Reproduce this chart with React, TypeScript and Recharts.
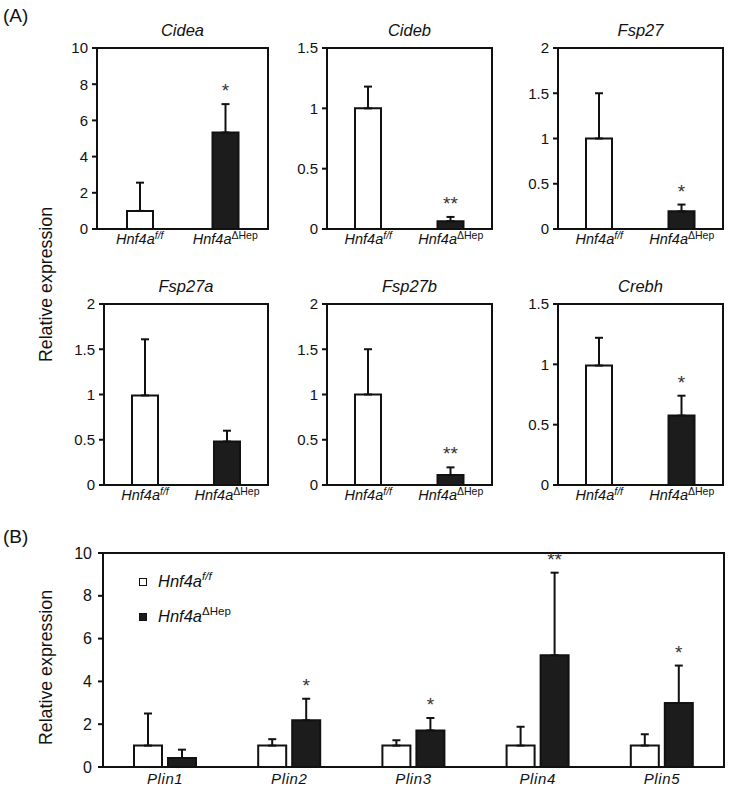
import React from "react";
import { Bar, BarChart, Cell, ErrorBar, LabelList, ReferenceArea, XAxis, YAxis } from "recharts";

const FONT = '"Liberation Sans", Arial, Helvetica, sans-serif';
const INK = "#111111";
const DARK = "#1c1c1c";

// (A) one gene per small chart, Hnf4a f/f vs ΔHep
const genotypes = ["f/f", "ΔHep"];
const genesA = ["Cidea", "Cideb", "Fsp27", "Fsp27a", "Fsp27b", "Crebh"];
const floxMeanA = [1.0, 1.0, 1.0, 0.99, 1.0, 0.99];
const floxErrA = [1.56, 0.18, 0.5, 0.62, 0.5, 0.23];
const hepMeanA = [5.33, 0.065, 0.195, 0.48, 0.11, 0.575];
const hepErrA = [1.57, 0.035, 0.075, 0.12, 0.085, 0.165];
const sigA = ["*", "**", "*", "", "**", "*"];
const ticksA = [
  [0, 2, 4, 6, 8, 10],
  [0, 0.5, 1, 1.5],
  [0, 0.5, 1, 1.5, 2],
  [0, 0.5, 1, 1.5, 2],
  [0, 0.5, 1, 1.5, 2],
  [0, 0.5, 1, 1.5],
];

// (B) perilipins
const genesB = ["Plin1", "Plin2", "Plin3", "Plin4", "Plin5"];
const floxMeanB = [1, 1, 1, 1, 1];
const floxErrB = [1.5, 0.3, 0.25, 0.88, 0.53];
const hepMeanB = [0.42, 2.18, 1.71, 5.22, 2.99];
const hepErrB = [0.39, 1.01, 0.58, 3.86, 1.75];
const sigB = ["", "*", "*", "**", "*"];
const ticksB = [0, 2, 4, 6, 8, 10];

// plot rectangles of the six small charts
const slotsA = [
  { left: 97, top: 48, w: 171 },
  { left: 327, top: 48, w: 165 },
  { left: 558, top: 48, w: 165 },
  { left: 104, top: 304, w: 164 },
  { left: 327, top: 304, w: 165 },
  { left: 558, top: 304, w: 165 },
];
const PLOT_H_A = 181;

const axisLine = { stroke: INK, strokeWidth: 2 };

function sigLabel(means: number[], errs: number[], fontSize: number) {
  return (props: any) => {
    const { x, y, width, height, value, index } = props;
    if (!value) return null;
    const perUnit = height / means[index];
    const errTop = y - errs[index] * perUnit;
    return (
      <text
        x={x + width / 2}
        y={errTop - 7}
        textAnchor="middle"
        fontFamily={FONT}
        fontSize={fontSize}
        fill="#333"
      >
        {value}
      </text>
    );
  };
}

function GenotypeTick({ x, y, payload }: any) {
  const sup = payload.value;
  return (
    <text x={x} y={y + 15} textAnchor="middle" fontFamily={FONT} fontSize={14.5} fill={INK}>
      <tspan fontStyle="italic">Hnf4a</tspan>
      <tspan fontSize={10.5} dy={-5} fontStyle={sup === "f/f" ? "italic" : "normal"}>
        {sup}
      </tspan>
    </text>
  );
}

function GeneTick({ x, y, payload }: any) {
  return (
    <text
      x={x}
      y={y + 17}
      textAnchor="middle"
      fontFamily={FONT}
      fontSize={15}
      fontStyle="italic"
      letterSpacing={0.6}
      fill={INK}
    >
      {payload.value}
    </text>
  );
}

function GenePanel({ i }: { i: number }) {
  const slot = slotsA[i];
  const means = [floxMeanA[i], hepMeanA[i]];
  const errs = [floxErrA[i], hepErrA[i]];
  const data = genotypes.map((g, k) => ({
    g,
    mean: means[k],
    err: [0, errs[k]],
    sig: k === 0 ? "" : sigA[i],
  }));
  const ticks = ticksA[i];
  const yMax = ticks[ticks.length - 1];
  const YW = 50;
  const TOP = 20;
  const BOTTOM = 30;
  const RIGHT = 4;
  return (
    <div style={{ position: "absolute", left: slot.left - YW, top: slot.top - TOP }}>
      <BarChart
        width={slot.w + YW + RIGHT}
        height={PLOT_H_A + TOP + BOTTOM}
        data={data}
        margin={{ top: TOP, right: RIGHT, left: 0, bottom: 0 }}
      >
        <XAxis
          dataKey="g"
          height={BOTTOM}
          axisLine={axisLine}
          tickLine={false}
          tickSize={0}
          tickMargin={0}
          tick={<GenotypeTick />}
          interval={0}
        />
        <YAxis
          width={YW}
          domain={[0, yMax]}
          ticks={ticks}
          interval={0}
          axisLine={axisLine}
          tickLine={{ stroke: INK, strokeWidth: 2 }}
          tickSize={5}
          tickMargin={4}
          tick={{ fontFamily: FONT, fontSize: 15, fill: INK }}
        />
        <ReferenceArea y1={0} y2={yMax} fill="none" stroke={INK} strokeWidth={2} fillOpacity={0} ifOverflow="visible" />
        <Bar dataKey="mean" barSize={26} stroke={INK} strokeWidth={2} isAnimationActive={false}>
          {data.map((d, k) => (
            <Cell key={d.g} fill={k === 0 ? "#ffffff" : DARK} />
          ))}
          <ErrorBar dataKey="err" width={4} strokeWidth={2} stroke={INK} direction="y" />
          <LabelList dataKey="sig" content={sigLabel(means, errs, 19)} />
        </Bar>
      </BarChart>
    </div>
  );
}

function LegendB() {
  return (
    <div style={{ position: "absolute", left: 139, top: 564, fontFamily: FONT, color: INK }}>
      {genotypes.map((g, k) => (
        <div key={g} style={{ display: "flex", alignItems: "center", height: 35 }}>
          <div
            style={{
              width: 8,
              height: 8,
              boxSizing: "border-box",
              border: `1.5px solid ${INK}`,
              background: k === 0 ? "#fff" : DARK,
              marginRight: 11,
            }}
          />
          <span style={{ fontSize: 16.5, fontStyle: "italic" }}>Hnf4a</span>
          <span
            style={{
              fontSize: 11.5,
              position: "relative",
              top: -6,
              fontStyle: k === 0 ? "italic" : "normal",
            }}
          >
            {g}
          </span>
        </div>
      ))}
    </div>
  );
}

function PanelB() {
  const data = genesB.map((gene, k) => ({
    gene,
    flox: floxMeanB[k],
    floxErr: [0, floxErrB[k]],
    hep: hepMeanB[k],
    hepErr: [0, hepErrB[k]],
    sig: sigB[k],
  }));
  const plot = { left: 103, top: 553, w: 621, h: 214 };
  const YW = 55;
  const TOP = 20;
  const BOTTOM = 23;
  const RIGHT = 4;
  return (
    <div style={{ position: "absolute", left: plot.left - YW, top: plot.top - TOP }}>
      <BarChart
        width={plot.w + YW + RIGHT}
        height={plot.h + TOP + BOTTOM}
        data={data}
        margin={{ top: TOP, right: RIGHT, left: 0, bottom: 0 }}
        barGap={6}
      >
        <XAxis
          dataKey="gene"
          height={BOTTOM}
          axisLine={axisLine}
          tickLine={false}
          tickSize={0}
          tickMargin={0}
          tick={<GeneTick />}
          interval={0}
        />
        <YAxis
          width={YW}
          domain={[0, 10]}
          ticks={ticksB}
          interval={0}
          axisLine={axisLine}
          tickLine={{ stroke: INK, strokeWidth: 2 }}
          tickSize={5}
          tickMargin={6}
          tick={{ fontFamily: FONT, fontSize: 16, fill: INK }}
        />
        <ReferenceArea y1={0} y2={10} fill="none" stroke={INK} strokeWidth={2} fillOpacity={0} ifOverflow="visible" />
        <Bar
          dataKey="flox"
          name="f/f"
          barSize={28}
          fill="#ffffff"
          stroke={INK}
          strokeWidth={2}
          isAnimationActive={false}
        >
          <ErrorBar dataKey="floxErr" width={4} strokeWidth={2} stroke={INK} direction="y" />
        </Bar>
        <Bar
          dataKey="hep"
          name="ΔHep"
          barSize={28}
          fill={DARK}
          stroke={INK}
          strokeWidth={2}
          isAnimationActive={false}
        >
          <ErrorBar dataKey="hepErr" width={4} strokeWidth={2} stroke={INK} direction="y" />
          <LabelList dataKey="sig" content={sigLabel(hepMeanB, hepErrB, 19)} />
        </Bar>
      </BarChart>
    </div>
  );
}

export default function App() {
  return (
    <div
      style={{
        position: "absolute",
        left: 0,
        top: 0,
        width: 734,
        height: 790,
        background: "#ffffff",
        fontFamily: FONT,
        overflow: "hidden",
      }}
    >
      {slotsA.map((_, i) => (
        <GenePanel key={genesA[i]} i={i} />
      ))}
      <PanelB />
      <LegendB />
      <svg
        width={734}
        height={790}
        style={{ position: "absolute", left: 0, top: 0, pointerEvents: "none" }}
      >
        <text x={3} y={22} fontFamily={FONT} fontSize={19} fill={INK}>
          (A)
        </text>
        <text x={3} y={543} fontFamily={FONT} fontSize={19} fill={INK}>
          (B)
        </text>
        {slotsA.map((s, i) => (
          <text
            key={genesA[i]}
            x={s.left + s.w / 2}
            y={s.top - 12}
            textAnchor="middle"
            fontFamily={FONT}
            fontSize={16.5}
            fontStyle="italic"
            fill={INK}
          >
            {genesA[i]}
          </text>
        ))}
        <text
          transform="translate(52, 284.5) rotate(-90)"
          textAnchor="middle"
          fontFamily={FONT}
          fontSize={17.8}
          fill={INK}
        >
          Relative expression
        </text>
        <text
          transform="translate(52, 667.5) rotate(-90)"
          textAnchor="middle"
          fontFamily={FONT}
          fontSize={17.8}
          fill={INK}
        >
          Relative expression
        </text>
      </svg>
    </div>
  );
}
